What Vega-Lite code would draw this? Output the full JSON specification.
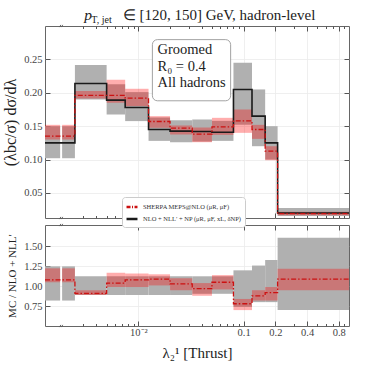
{
  "$schema": "https://vega.github.io/schema/vega-lite/v6.json",
  "background": "white",
  "padding": {"left": 2, "top": 7, "right": 19, "bottom": 0},
  "config": {
    "font": "Liberation Serif",
    "view": {"stroke": "#666", "strokeWidth": 1},
    "axis": {"domain": false, "tickColor": "#555", "labelColor": "#444", "titleColor": "#222", "labelFont": "Liberation Serif", "titleFont": "Liberation Serif", "titleFontWeight": "normal", "labelFontSize": 10.5, "gridColor": "#ebebeb", "gridWidth": 0.8},
    "concat": {"spacing": -1}
  },
  "datasets": {
    "bins": [
      {"lo": 0.0013, "hi": 0.00181, "nlo_lo": 0.102, "nlo_hi": 0.150, "mc_lo": 0.130, "mc_hi": 0.152, "r_nlo_lo": 0.82, "r_nlo_hi": 1.25, "r_mc_lo": 1.05, "r_mc_hi": 1.225},
      {"lo": 0.00189, "hi": 0.0025, "nlo_lo": 0.102, "nlo_hi": 0.150, "mc_lo": 0.130, "mc_hi": 0.152, "r_nlo_lo": 0.82, "r_nlo_hi": 1.25, "r_mc_lo": 1.05, "r_mc_hi": 1.225},
      {"lo": 0.0025, "hi": 0.005, "nlo_lo": 0.190, "nlo_hi": 0.2416, "mc_lo": 0.1915, "mc_hi": 0.2026, "r_nlo_lo": 0.89, "r_nlo_hi": 1.125, "r_mc_lo": 0.89, "r_mc_hi": 0.95},
      {"lo": 0.005, "hi": 0.0075, "nlo_lo": 0.1675, "nlo_hi": 0.2126, "mc_lo": 0.185, "mc_hi": 0.2195, "r_nlo_lo": 0.89, "r_nlo_hi": 1.125, "r_mc_lo": 0.99, "r_mc_hi": 1.17},
      {"lo": 0.0075, "hi": 0.0125, "nlo_lo": 0.1576, "nlo_hi": 0.201, "mc_lo": 0.180, "mc_hi": 0.206, "r_nlo_lo": 0.89, "r_nlo_hi": 1.125, "r_mc_lo": 0.99, "r_mc_hi": 1.16},
      {"lo": 0.0125, "hi": 0.02, "nlo_lo": 0.128, "nlo_hi": 0.163, "mc_lo": 0.1476, "mc_hi": 0.165, "r_nlo_lo": 0.89, "r_nlo_hi": 1.125, "r_mc_lo": 1.01, "r_mc_hi": 1.15},
      {"lo": 0.02, "hi": 0.0325, "nlo_lo": 0.126, "nlo_hi": 0.159, "mc_lo": 0.1375, "mc_hi": 0.151, "r_nlo_lo": 0.89, "r_nlo_hi": 1.125, "r_mc_lo": 0.95, "r_mc_hi": 1.10},
      {"lo": 0.0325, "hi": 0.05, "nlo_lo": 0.127, "nlo_hi": 0.160, "mc_lo": 0.126, "mc_hi": 0.148, "r_nlo_lo": 0.905, "r_nlo_hi": 1.125, "r_mc_lo": 0.88, "r_mc_hi": 1.04},
      {"lo": 0.05, "hi": 0.08, "nlo_lo": 0.128, "nlo_hi": 0.158, "mc_lo": 0.137, "mc_hi": 0.1625, "r_nlo_lo": 0.905, "r_nlo_hi": 1.125, "r_mc_lo": 0.96, "r_mc_hi": 1.14},
      {"lo": 0.08, "hi": 0.12, "nlo_lo": 0.152, "nlo_hi": 0.245, "mc_lo": 0.140, "mc_hi": 0.175, "r_nlo_lo": 0.74, "r_nlo_hi": 1.20, "r_mc_lo": 0.70, "r_mc_hi": 0.84},
      {"lo": 0.12, "hi": 0.16, "nlo_lo": 0.12, "nlo_hi": 0.205, "mc_lo": 0.131, "mc_hi": 0.152, "r_nlo_lo": 0.80, "r_nlo_hi": 1.26, "r_mc_lo": 0.82, "r_mc_hi": 0.95},
      {"lo": 0.16, "hi": 0.21, "nlo_lo": 0.10, "nlo_hi": 0.15, "mc_lo": 0.099, "mc_hi": 0.12, "r_nlo_lo": 0.80, "r_nlo_hi": 1.33, "r_mc_lo": 0.82, "r_mc_hi": 0.99},
      {"lo": 0.21, "hi": 1.0, "nlo_lo": 0.0155, "nlo_hi": 0.0275, "mc_lo": 0.0165, "mc_hi": 0.022, "r_nlo_lo": 0.70, "r_nlo_hi": 1.61, "r_mc_lo": 0.95, "r_mc_hi": 1.22}
    ],
    "steps": [
      {"x": 0.0013, "nlo": 0.125, "mc": 0.135, "r_mc": 1.08},
      {"x": 0.0025, "nlo": 0.214, "mc": 0.196, "r_mc": 0.91},
      {"x": 0.005, "nlo": 0.189, "mc": 0.196, "r_mc": 1.04},
      {"x": 0.0075, "nlo": 0.178, "mc": 0.192, "r_mc": 1.08},
      {"x": 0.0125, "nlo": 0.145, "mc": 0.157, "r_mc": 1.09},
      {"x": 0.02, "nlo": 0.1426, "mc": 0.147, "r_mc": 1.03},
      {"x": 0.0325, "nlo": 0.142, "mc": 0.138, "r_mc": 0.97},
      {"x": 0.05, "nlo": 0.141, "mc": 0.149, "r_mc": 1.05},
      {"x": 0.08, "nlo": 0.205, "mc": 0.158, "r_mc": 0.78},
      {"x": 0.12, "nlo": 0.165, "mc": 0.145, "r_mc": 0.88},
      {"x": 0.16, "nlo": 0.125, "mc": 0.1126, "r_mc": 0.92},
      {"x": 0.21, "nlo": 0.02, "mc": 0.019, "r_mc": 1.09},
      {"x": 1.0, "nlo": 0.02, "mc": 0.019, "r_mc": 1.09}
    ],
    "one": [{"n": 1}],
    "breaksTop": [{"bx": 0.00185, "by": 0.3}, {"bx": 0.00185, "by": 0.0125}],
    "breaksRatio": [{"bx": 0.00185, "by": 1.77}, {"bx": 0.00185, "by": 0.5}]
  },
  "vconcat": [
    {
      "width": 304,
      "height": 192,
      "resolve": {"axis": {"x": "independent", "y": "independent"}},
      "layer": [
        {
          "data": {"name": "bins"},
          "mark": {"type": "rect", "color": "#b0b0b0"},
          "encoding": {
            "x": {"field": "lo", "type": "quantitative", "scale": {"type": "log", "domain": [0.0013, 1.0], "nice": false},
              "axis": {"orient": "bottom", "values": [0.01, 0.1, 0.2, 0.4, 0.8], "labels": false, "tickSize": -5, "grid": true, "title": null}},
            "x2": {"field": "hi"},
            "y": {"field": "nlo_lo", "type": "quantitative", "scale": {"domain": [0.0125, 0.3], "nice": false, "zero": false},
              "axis": {"orient": "left", "values": [0.05, 0.1, 0.15, 0.2, 0.25], "format": ".2f", "tickSize": -5, "labelPadding": 8, "grid": true, "title": "(λbc/σ) dσ/dλ", "titleFontSize": 16, "titlePadding": 5}},
            "y2": {"field": "nlo_hi"}
          }
        },
        {
          "data": {"name": "bins"},
          "mark": {"type": "rect", "color": "#ff0000", "opacity": 0.32},
          "encoding": {
            "x": {"field": "lo", "type": "quantitative",
              "axis": {"orient": "bottom", "values": [0.003, 0.004, 0.005, 0.006, 0.007, 0.008, 0.009, 0.02, 0.03, 0.04, 0.05, 0.06, 0.07, 0.08, 0.09, 0.3, 0.5, 0.6, 0.7, 0.9], "labels": false, "tickSize": -2.5, "grid": false, "title": null}},
            "x2": {"field": "hi"},
            "y": {"field": "mc_lo", "type": "quantitative",
              "axis": {"orient": "right", "values": [0.05, 0.1, 0.15, 0.2, 0.25], "labels": false, "tickSize": -5, "grid": false, "title": null}},
            "y2": {"field": "mc_hi"}
          }
        },
        {
          "data": {"name": "steps"},
          "mark": {"type": "line", "interpolate": "step-after", "strokeWidth": 1.6},
          "encoding": {
            "x": {"field": "x", "type": "quantitative",
              "axis": {"orient": "top", "values": [0.01, 0.1, 0.2, 0.4, 0.8], "labels": false, "tickSize": -5, "grid": false, "title": null}},
            "y": {"field": "nlo", "type": "quantitative", "axis": null},
            "color": {"datum": "NLO + NLL′ + NP (μR, μF, xL, δNP)", "type": "nominal",
              "scale": {"domain": ["SHERPA MEPS@NLO (μR, μF)", "NLO + NLL′ + NP (μR, μF, xL, δNP)"], "range": ["#cc1111", "#1a1a1a"]},
              "legend": {"title": null, "orient": "none", "legendX": 77, "legendY": 171, "symbolType": "stroke", "symbolSize": 120, "symbolStrokeWidth": 2.5, "labelFontSize": 6.5, "labelFont": "Liberation Serif", "labelColor": "#333", "padding": 3, "rowPadding": 0, "strokeColor": "#cccccc", "fillColor": "white", "cornerRadius": 3,
                "encode": {"symbols": {"update": {"strokeDash": {"signal": "datum.index === 0 ? [4, 1.5, 1, 1.5] : [1, 0]"}}}}}}
          }
        },
        {
          "data": {"name": "steps"},
          "mark": {"type": "line", "interpolate": "step-after", "strokeWidth": 1.3, "strokeDash": [5, 2, 1.5, 2]},
          "encoding": {
            "x": {"field": "x", "type": "quantitative",
              "axis": {"orient": "top", "values": [0.003, 0.004, 0.005, 0.006, 0.007, 0.008, 0.009, 0.02, 0.03, 0.04, 0.05, 0.06, 0.07, 0.08, 0.09, 0.3, 0.5, 0.6, 0.7, 0.9], "labels": false, "tickSize": -2.5, "grid": false, "title": null}},
            "y": {"field": "mc", "type": "quantitative", "axis": null},
            "color": {"datum": "SHERPA MEPS@NLO (μR, μF)", "type": "nominal"}
          }
        },
        {
          "data": {"name": "one"},
          "mark": {"type": "rect", "fill": "white", "stroke": "#999", "strokeWidth": 0.9, "cornerRadius": 5},
          "encoding": {
            "x": {"datum": 0.0136, "type": "quantitative", "axis": null},
            "x2": {"datum": 0.0752},
            "y": {"datum": 0.2796, "type": "quantitative", "axis": null},
            "y2": {"datum": 0.188}
          }
        },
        {
          "data": {"name": "one"},
          "mark": {"type": "text", "align": "left", "baseline": "top", "fontSize": 14.5, "lineHeight": 16.5, "lineBreak": "\n", "color": "#222"},
          "encoding": {
            "x": {"datum": 0.0152, "type": "quantitative", "axis": null},
            "y": {"datum": 0.274, "type": "quantitative", "axis": null},
            "text": {"value": "Groomed\nR₀ = 0.4\nAll hadrons"}
          }
        },
        {
          "data": {"name": "one"},
          "mark": {"type": "text", "align": "left", "baseline": "alphabetic", "fontSize": 15.5, "fontStyle": "italic", "color": "#222"},
          "encoding": {
            "x": {"datum": 0.00306, "type": "quantitative", "axis": null},
            "y": {"datum": 0.3095, "type": "quantitative", "axis": null},
            "text": {"value": "p"}
          }
        },
        {
          "data": {"name": "one"},
          "mark": {"type": "text", "align": "left", "baseline": "alphabetic", "fontSize": 10, "color": "#222"},
          "encoding": {
            "x": {"datum": 0.00358, "type": "quantitative", "axis": null},
            "y": {"datum": 0.3045, "type": "quantitative", "axis": null},
            "text": {"value": "T, jet"}
          }
        },
        {
          "data": {"name": "one"},
          "mark": {"type": "text", "align": "left", "baseline": "alphabetic", "fontSize": 15, "color": "#222"},
          "encoding": {
            "x": {"datum": 0.0071, "type": "quantitative", "axis": null},
            "y": {"datum": 0.3095, "type": "quantitative", "axis": null},
            "text": {"value": "∈ [120, 150] GeV, hadron-level"}
          }
        },
        {
          "data": {"name": "breaksTop"},
          "mark": {"type": "point", "shape": "M-1,0.7L-0.2,-0.7M0.2,0.7L1,-0.7", "size": 10, "filled": false, "stroke": "#555", "strokeWidth": 0.9, "opacity": 1},
          "encoding": {
            "x": {"field": "bx", "type": "quantitative", "axis": null},
            "y": {"field": "by", "type": "quantitative", "axis": null}
          }
        }
      ]
    },
    {
      "width": 304,
      "height": 101,
      "resolve": {"axis": {"x": "independent", "y": "independent"}},
      "layer": [
        {
          "data": {"name": "bins"},
          "mark": {"type": "rect", "color": "#b0b0b0"},
          "encoding": {
            "x": {"field": "lo", "type": "quantitative", "scale": {"type": "log", "domain": [0.0013, 1.0], "nice": false},
              "axis": {"orient": "bottom", "values": [0.01, 0.1, 0.2, 0.4, 0.8], "format": ".1f", "labelExpr": "datum.value < 0.05 ? '10⁻²' : datum.label", "tickSize": -5, "labelPadding": 6, "grid": true, "title": "λ₂¹ [Thrust]", "titleFontSize": 15, "titlePadding": 8}},
            "x2": {"field": "hi"},
            "y": {"field": "r_nlo_lo", "type": "quantitative", "scale": {"domain": [0.5, 1.77], "nice": false, "zero": false},
              "axis": {"orient": "left", "values": [0.75, 1.0, 1.25, 1.5], "format": ".2f", "tickSize": -5, "labelPadding": 8, "grid": true, "title": "MC / NLO + NLL′", "titleFontSize": 11, "titlePadding": 6}},
            "y2": {"field": "r_nlo_hi"}
          }
        },
        {
          "data": {"name": "bins"},
          "mark": {"type": "rect", "color": "#ff0000", "opacity": 0.32},
          "encoding": {
            "x": {"field": "lo", "type": "quantitative",
              "axis": {"orient": "bottom", "values": [0.003, 0.004, 0.005, 0.006, 0.007, 0.008, 0.009, 0.02, 0.03, 0.04, 0.05, 0.06, 0.07, 0.08, 0.09, 0.3, 0.5, 0.6, 0.7, 0.9], "labels": false, "tickSize": -2.5, "grid": false, "title": null}},
            "x2": {"field": "hi"},
            "y": {"field": "r_mc_lo", "type": "quantitative",
              "axis": {"orient": "right", "values": [0.75, 1.0, 1.25, 1.5], "labels": false, "tickSize": -5, "grid": false, "title": null}},
            "y2": {"field": "r_mc_hi"}
          }
        },
        {
          "mark": {"type": "rule", "color": "#1a1a1a", "strokeWidth": 1.3},
          "encoding": {
            "y": {"datum": 1.0, "type": "quantitative", "axis": null}
          }
        },
        {
          "data": {"name": "steps"},
          "mark": {"type": "line", "interpolate": "step-after", "strokeWidth": 1.3, "strokeDash": [5, 2, 1.5, 2], "color": "#cc1111"},
          "encoding": {
            "x": {"field": "x", "type": "quantitative",
              "axis": {"orient": "top", "values": [0.01, 0.1, 0.2, 0.4, 0.8], "labels": false, "tickSize": -5, "grid": false, "title": null}},
            "y": {"field": "r_mc", "type": "quantitative", "axis": null}
          }
        },
        {
          "data": {"name": "breaksRatio"},
          "mark": {"type": "point", "shape": "M-1,0.7L-0.2,-0.7M0.2,0.7L1,-0.7", "size": 10, "filled": false, "stroke": "#555", "strokeWidth": 0.9, "opacity": 1},
          "encoding": {
            "x": {"field": "bx", "type": "quantitative", "axis": null},
            "y": {"field": "by", "type": "quantitative", "axis": null}
          }
        }
      ]
    }
  ]
}
